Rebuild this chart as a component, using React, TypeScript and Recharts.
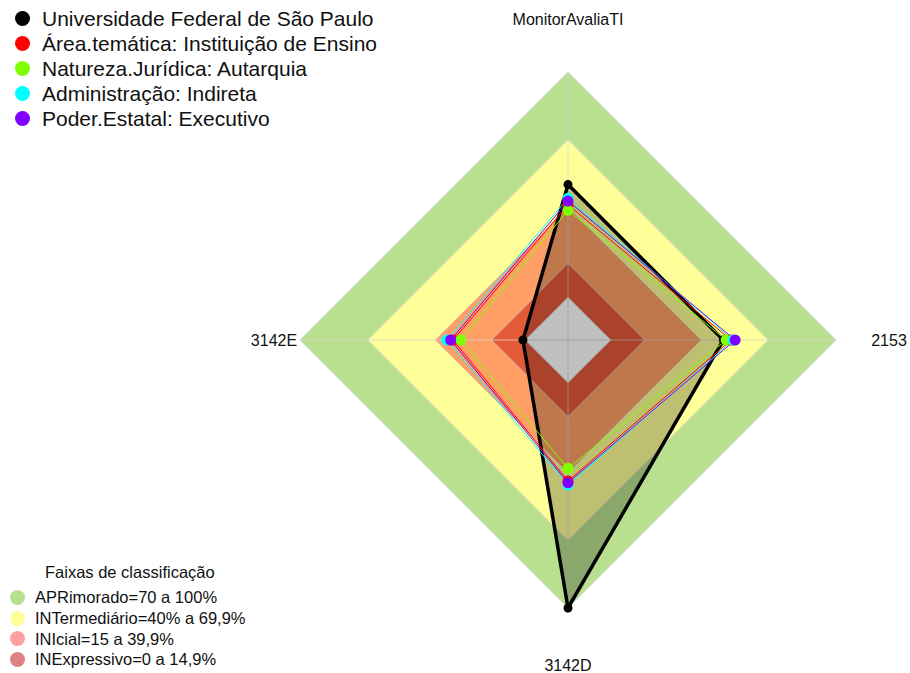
import React from 'react';
import { RadarChart, Radar, PolarGrid, PolarAngleAxis, PolarRadiusAxis } from 'recharts';

const categories = ['MonitorAvaliaTI', '2153', '3142D', '3142E'];
const unifesp = [50, 50, 100, 1];
const areaTematica = [41, 53.4, 43.6, 32];
const naturezaJuridica = [38.6, 51.2, 38, 28.6];
const administracao = [43.9, 54.3, 45.4, 34.9];
const poderEstatal = [42.7, 55.2, 44.4, 33.1];

const bandKeys = ['aprimorado', 'intermediario', 'inicial', 'inexpressivo', 'centro'];
const bandLevels = [100, 70, 40, 15, 0];
const bandFills = ['#B9E08F', '#FFFF99', '#FF9F66', '#E35A38', '#FFFFFF'];

const radialTicks = [0, 15, 40, 70, 100];
const radialDomain = [-19, 100];

const seriesNames = [
  'Universidade Federal de São Paulo',
  'Área.temática: Instituição de Ensino',
  'Natureza.Jurídica: Autarquia',
  'Administração: Indireta',
  'Poder.Estatal: Executivo',
];
const seriesKeys = ['unifesp', 'area', 'natureza', 'administracao', 'poder'];
const seriesValues = [unifesp, areaTematica, naturezaJuridica, administracao, poderEstatal];
const seriesColors = ['#000000', '#FF0000', '#80FF00', '#00FFFF', '#8000FF'];

const bandLegendTitle = 'Faixas de classificação';
const bandLegendLabels = [
  'APRimorado=70 a 100%',
  'INTermediário=40% a 69,9%',
  'INIcial=15 a 39,9%',
  'INExpressivo=0 a 14,9%',
];
const bandLegendColors = ['#B9E08F', '#FFFF99', '#FFA0A0', '#E08282'];

const labelExtra: Record<string, number> = {
  MonitorAvaliaTI: 53,
  '2153': 53,
  '3142D': 57,
  '3142E': 26,
};

const data = categories.map((c, i) => {
  const row: Record<string, number | string> = { axis: c };
  seriesKeys.forEach((k, s) => {
    row[k] = seriesValues[s][i];
  });
  bandKeys.forEach((k, b) => {
    row[k] = bandLevels[b];
  });
  return row;
});

const FONT = '"Liberation Sans", Arial, Helvetica, sans-serif';
const RAD = Math.PI / 180;

const AngleTick = (props: any) => {
  const { cx, cy, radius, payload } = props;
  const extra = labelExtra[payload.value] ?? 30;
  const r = radius + extra;
  const x = cx + Math.cos(-payload.coordinate * RAD) * r;
  const y = cy + Math.sin(-payload.coordinate * RAD) * r;
  return (
    <text x={x} y={y} dy="0.35em" textAnchor="middle" fontSize={16} fontFamily={FONT} fill="#111">
      {payload.value}
    </text>
  );
};

export default function App() {
  return (
    <div style={{ position: 'absolute', left: 0, top: 0, width: 910, height: 673, background: '#fff', fontFamily: FONT }}>
      <RadarChart width={910} height={673} data={data} cx={568} cy={340} outerRadius={268} margin={{ top: 0, right: 0, bottom: 0, left: 0 }}>
        <PolarRadiusAxis domain={radialDomain} ticks={radialTicks} tick={false} axisLine={false} angle={90} type="number" />
        <PolarAngleAxis dataKey="axis" tick={AngleTick} tickLine={false} axisLine={false} />
        {bandKeys.map((k, b) => (
          <Radar key={k} dataKey={k} fill={bandFills[b]} fillOpacity={1} stroke="none" dot={false} isAnimationActive={false} zIndex={90} />
        ))}
        <PolarGrid gridType="polygon" stroke="#d4d4d4" strokeOpacity={0.75} zIndex={95} />
        {seriesKeys.map((k, s) => (
          <Radar
            key={k}
            dataKey={k}
            stroke={seriesColors[s]}
            strokeWidth={s === 0 ? 3.5 : 1}
            fill={s === 0 ? '#000000' : 'none'}
            fillOpacity={s === 0 ? 0.25 : 0}
            dot={{ r: s === 0 ? 4.5 : 5.5, fill: seriesColors[s], fillOpacity: 1, stroke: 'none' }}
            isAnimationActive={false}
            zIndex={100}
          />
        ))}
      </RadarChart>

      <div style={{ position: 'absolute', left: 0, top: 6 }}>
        {seriesNames.map((n, i) => (
          <div key={n} style={{ display: 'flex', alignItems: 'center', height: 25, whiteSpace: 'nowrap' }}>
            <span style={{ display: 'inline-block', width: 15, height: 15, borderRadius: '50%', background: seriesColors[i], marginLeft: 15, marginRight: 12 }} />
            <span style={{ fontSize: 21, color: '#111', lineHeight: '25px' }}>{n}</span>
          </div>
        ))}
      </div>

      <div style={{ position: 'absolute', left: 0, top: 561 }}>
        <div style={{ fontSize: 16.5, color: '#111', marginLeft: 45, height: 26, lineHeight: '22px', whiteSpace: 'nowrap' }}>{bandLegendTitle}</div>
        {bandLegendLabels.map((n, i) => (
          <div key={n} style={{ display: 'flex', alignItems: 'center', height: 20.7, whiteSpace: 'nowrap' }}>
            <span style={{ display: 'inline-block', width: 15, height: 15, borderRadius: '50%', background: bandLegendColors[i], marginLeft: 10, marginRight: 10 }} />
            <span style={{ fontSize: 16.5, color: '#111', lineHeight: '20px' }}>{n}</span>
          </div>
        ))}
      </div>
    </div>
  );
}
